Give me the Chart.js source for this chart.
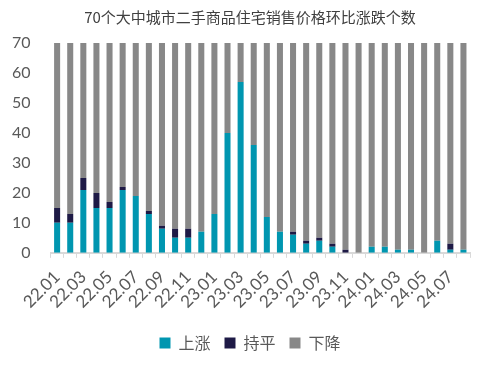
<!DOCTYPE html>
<html><head><meta charset="utf-8">
<script src="https://cdn.jsdelivr.net/npm/chart.js@4"></script>
<style>html,body{margin:0;padding:0;background:#fff;}#wrap{width:500px;height:376px;}</style>
</head><body><div id="wrap"><canvas id="c" width="500" height="376"></canvas></div>
<script>
const months = ["22.01","22.02","22.03","22.04","22.05","22.06","22.07","22.08","22.09","22.10","22.11","22.12",
"23.01","23.02","23.03","23.04","23.05","23.06","23.07","23.08","23.09","23.10","23.11","23.12",
"24.01","24.02","24.03","24.04","24.05","24.06","24.07","24.08"];
const rise = [10,10,21,15,15,21,19,13,8,5,5,7,13,40,57,36,12,7,6,3,4,2,0,0,2,2,1,1,0,4,1,1];
const flat = [5,3,4,5,2,1,0,1,1,3,3,0,0,0,0,0,0,0,1,1,1,1,1,0,0,0,0,0,0,0,2,0];
const fall = [55,57,45,50,53,48,51,56,61,62,62,63,57,30,13,34,58,63,63,66,65,67,69,70,68,68,69,69,70,66,67,69];
const yTicks = [0,10,20,30,40,50,60,70];

const cjk = "'Noto Sans CJK SC', sans-serif";
const latin = "Lato, 'Noto Sans', sans-serif";

new Chart(document.getElementById('c'), {
  type: 'bar',
  data: {
    labels: months,
    datasets: [
      {label:'上涨', data: rise, backgroundColor:'#0096B0'},
      {label:'持平', data: flat, backgroundColor:'#1E1A46'},
      {label:'下降', data: fall, backgroundColor:'#888888'}
    ]
  },
  options: {
    responsive:false, animation:false,
    layout:{padding:{left:0,right:0,top:4,bottom:15}},
    datasets:{bar:{barPercentage:0.46,categoryPercentage:1}},
    plugins:{
      title:{display:true,text:'70个大中城市二手商品住宅销售价格环比涨跌个数',color:'#404040',
        font:{family:cjk,size:15,weight:'normal'},padding:{top:4,bottom:17}},
      legend:{position:'bottom',labels:{color:'#595959',font:{family:cjk,size:16},boxWidth:11,boxHeight:11,padding:14}},
      tooltip:{enabled:false}
    },
    scales:{
      x:{stacked:true,
        grid:{display:true,drawOnChartArea:false,drawTicks:true,tickLength:5,color:'#d9d9d9',offset:true},
        border:{color:'#d9d9d9',width:2},
        ticks:{autoSkip:false,maxRotation:45,minRotation:45,color:'#595959',font:{family:latin,size:17},padding:9,
          callback:function(v,i){return i%2===0?months[i]:'';}}
      },
      y:{stacked:true,min:0,max:70,
        afterBuildTicks:function(ax){ax.ticks=yTicks.map(v=>({value:v}));},
        grid:{display:false},border:{display:false},
        ticks:{color:'#595959',font:{family:latin,size:16},padding:12}
      },
      yR:{position:'right',min:0,max:70,display:true,
        grid:{display:false},border:{display:false},ticks:{display:false},
        afterFit:function(s){s.width=30;}
      }
    }
  }
});
</script></body></html>
